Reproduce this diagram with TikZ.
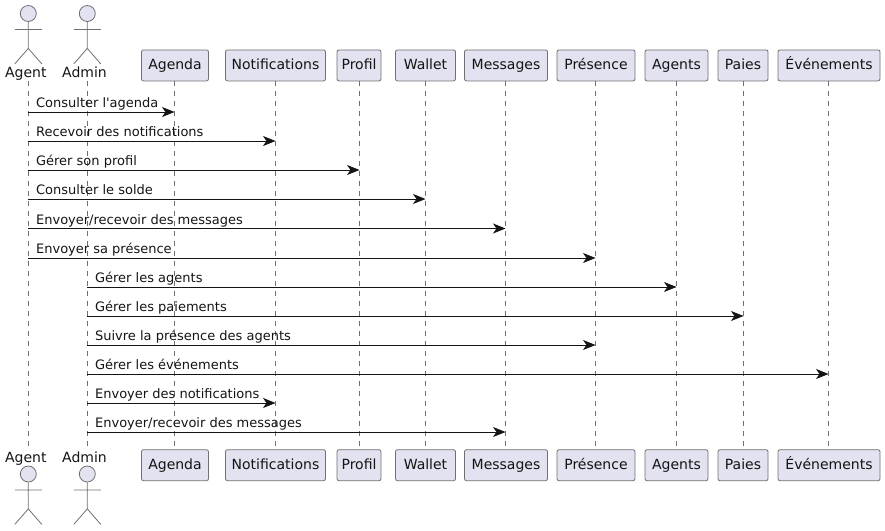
\documentclass[tikz,border=0pt]{standalone}
\usepackage{fontspec}
\setmainfont{DejaVu Sans}[Ligatures=TeXOff]
\usetikzlibrary{arrows.meta}
\definecolor{pfill}{HTML}{E2E2F0}
\definecolor{pline}{HTML}{707072}
\definecolor{ptext}{HTML}{141414}
\tikzset{
 x=1pt,y=-1pt,
 partbox/.style={draw=pline,fill=pfill,rounded corners=2pt,line width=0.8pt,minimum height=31pt,inner sep=0pt,text height=12pt,text depth=3pt,font=\fontsize{14}{16}\selectfont,text=ptext,anchor=center},
 actlabel/.style={font=\fontsize{14}{16}\selectfont,text=ptext,inner sep=0pt,anchor=base},
 acthead/.style={draw=pline,fill=pfill,circle,minimum size=16pt,inner sep=0pt,line width=0.8pt},
 actlimb/.style={draw=pline,line width=0.8pt},
 lifeline/.style={draw=pline,line width=0.8pt,dash pattern=on 5pt off 5pt},
 msg/.style={draw=ptext,line width=0.9pt,-{Stealth[length=12.5pt,width=10pt,inset=3.5pt]}},
 msglabel/.style={font=\fontsize{13}{15}\selectfont,text=ptext,inner sep=0pt,anchor=base west},
}
\newcommand{\stick}[1]{% limbs below the head node #1
 \draw[actlimb] (#1.south) -- ++(0,26.5) (#1.south)++(-13.5,7.5) -- ++(27,0)
  (#1.south)++(0,26.5) -- ++(-13.5,15.5) (#1.south)++(0,26.5) -- ++(13.5,15.5);}
\begin{document}
\begin{tikzpicture}
\useasboundingbox (0,0) rectangle (885,530);
% coordinates of the lifelines
\foreach \n/\x in {agent/28.3,admin/87.3,agenda/174.5,notif/275.5,profil/359.5,wallet/425.5,messages/505.5,presence/595.5,agents/676.5,paies/743.5,even/828.5}{
  \coordinate (\n T) at (\x,81);
  \coordinate (\n B) at (\x,449);
  \draw[lifeline] (\n T) -- (\n B);
}
% top actors
\node[acthead] (agentH) at (28.3,13.5) {};
\node[acthead] (adminH) at (87.3,13.5) {};
\stick{agentH}\stick{adminH}
\node[actlabel] at (25.8,77.5) {Agent};
\node[actlabel] at (84.5,77.5) {Admin};
% bottom actors
\node[acthead] (agentF) at (28.3,474) {};
\node[acthead] (adminF) at (87.3,474) {};
\stick{agentF}\stick{adminF}
\node[actlabel] at (25.8,462.5) {Agent};
\node[actlabel] at (84.5,462.5) {Admin};
% participant boxes
\foreach \n/\l/\c/\w in {agenda/Agenda/175/67,notif/Notifications/275.5/100,profil/Profil/359/44,wallet/Wallet/425.5/60,messages/Messages/506/83,presence/Présence/596/78,agents/Agents/676.5/63,paies/Paies/743/50,even/Événements/829/102}{
  \node[partbox,minimum width=\w pt] (\n Top) at (\c,65.4) {\l};
  \node[partbox,minimum width=\w pt] (\n Bot) at (\c,465.2) {\l};
}
% messages
\foreach \a/\b/\y/\l in {
 agent/agenda/112/{Consulter l'agenda},
 agent/notif/141/{Recevoir des notifications},
 agent/profil/170/{Gérer son profil},
 agent/wallet/199/{Consulter le solde},
 agent/messages/228.5/{Envoyer/recevoir des messages},
 agent/presence/258/{Envoyer sa présence},
 admin/agents/287/{Gérer les agents},
 admin/paies/316/{Gérer les paiements},
 admin/presence/345/{Suivre la présence des agents},
 admin/even/374/{Gérer les événements},
 admin/notif/403/{Envoyer des notifications},
 admin/messages/432/{Envoyer/recevoir des messages}}{
  \draw[msg] (\a T |- 0,\y) -- (\b T |- 0,\y);
  \path (\a T |- 0,\y) ++(7.6,-4.3) node[msglabel] {\l};
}
\end{tikzpicture}
\end{document}
